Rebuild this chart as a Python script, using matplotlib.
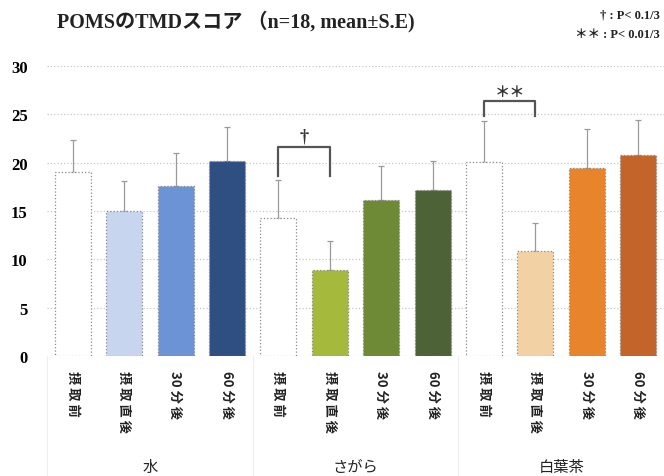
import matplotlib
matplotlib.use("Agg")
import matplotlib.pyplot as plt
import numpy as np

groups = ["水", "さがら", "白葉茶"]
timepoints = ["摂 取 前", "摂 取 直 後", "30 分 後", "60 分 後"]
means = [19.0, 15.0, 17.6, 20.2,
         14.3, 8.9, 16.1, 17.2,
         20.1, 10.9, 19.4, 20.8]
se = [3.3, 3.1, 3.4, 3.5,
      3.9, 3.0, 3.6, 3.0,
      4.2, 2.9, 4.1, 3.6]
colors = ["#ffffff", "#c8d5ef", "#6b93d6", "#2f4e82",
          "#ffffff", "#a5b93c", "#6e8a36", "#4e6237",
          "#ffffff", "#f2d2a5", "#e8842b", "#c3642b"]
yticks = [0, 5, 10, 15, 20, 25, 30]
# significance brackets: (left bar, right bar, bracket height, leg bottom, mark)
brackets = [(4, 5, 21.6, 18.6, "†"), (8, 9, 26.4, 24.8, "＊＊")]

SERIF = ["Liberation Serif", "Noto Sans CJK JP"]
CJK = ["Noto Sans CJK JP", "DejaVu Sans"]

fig = plt.figure(figsize=(6.64, 4.77), dpi=100)
ax = fig.add_axes([47 / 664, 120 / 477, 617 / 664, 290 / 477])

x = np.arange(len(means))
ax.bar(x, means, width=0.7, color=colors, edgecolor="#8a8a8a",
       linewidth=0.9, linestyle=":", zorder=3)
ax.errorbar(x, means, yerr=[np.zeros(len(se)), se], fmt="none",
            ecolor="#9a9a9a", elinewidth=0.9, capsize=2, capthick=0.9, zorder=2)

ax.set_xlim(-0.5, len(means) - 0.5)
ax.set_ylim(0, 30)
ax.set_yticks(yticks)
ax.set_yticklabels([str(v) for v in yticks], family=SERIF, fontsize=12,
                   fontweight="bold")
ax.tick_params(axis="y", length=0, pad=14)
ax.grid(axis="y", color="#c8c8c8", linestyle=":", linewidth=0.9, zorder=0)
for s in ax.spines.values():
    s.set_visible(False)

# vertical tick labels, read top to bottom
ax.set_xticks(x)
ax.set_xticklabels(timepoints * len(groups),
                   rotation=-90, family=CJK, fontsize=9.5, fontweight="bold",
                   va="top", ha="center", color="#222222")
ax.tick_params(axis="x", length=0, pad=10)

for i, g in enumerate(groups):
    cx = i * 4 + 1.5
    ax.text(cx, -0.38, g, transform=ax.get_xaxis_transform(), family=CJK,
            fontsize=11, ha="center", va="center", color="#222222")

for xl in [-0.5, 3.5, 7.5]:
    ax.plot([xl, xl], [0, -0.42], transform=ax.get_xaxis_transform(),
            color="#eeeeee", linewidth=0.8, clip_on=False)

for l, r, top, leg, mark in brackets:
    ax.plot([l, l, r, r], [leg, top, top, leg], color="#555555",
            linewidth=1.6, zorder=4)
    if mark == "†":
        ax.text((l + r) / 2, top + 0.3, mark, ha="center", va="bottom",
                family=SERIF, fontsize=13, fontweight="bold",
                color="#333333", zorder=4)
    else:
        ax.text((l + r) / 2, top + 0.2, mark, ha="center", va="bottom",
                family=CJK, fontsize=11, fontweight="bold",
                color="#333333", zorder=4)

fig.text(57 / 664, 1 - 22 / 477, "POMSのTMDスコア （n=18, mean±S.E)",
         family=SERIF, fontsize=14.5, fontweight="bold", ha="left",
         va="center", color="#222222")
fig.text(660 / 664, 1 - 15 / 477, "† : P< 0.1/3", family=SERIF,
         fontsize=9, fontweight="bold", ha="right", va="center",
         color="#222222")
fig.text(660 / 664, 1 - 35 / 477, "＊＊ : P< 0.01/3", family=SERIF,
         fontsize=9, fontweight="bold", ha="right", va="center",
         color="#222222")

fig.savefig("out.png", dpi=100, facecolor="white")
